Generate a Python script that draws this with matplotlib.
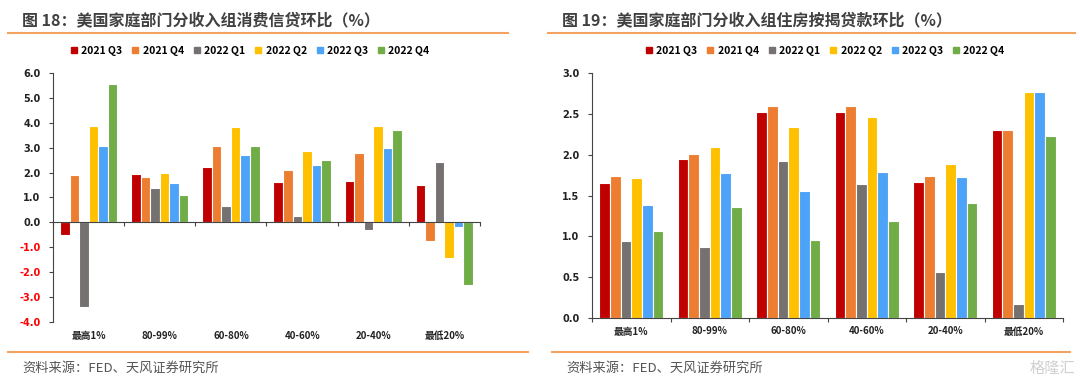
import matplotlib
matplotlib.use("Agg")
import matplotlib.pyplot as plt
import matplotlib.transforms as mtransforms
from matplotlib.lines import Line2D
import numpy as np

plt.rcParams['font.family'] = ['Noto Sans CJK SC', 'DejaVu Sans']

categories = ["最高1%", "80-99%", "60-80%", "40-60%", "20-40%", "最低20%"]
series_names = ["2021 Q3", "2021 Q4", "2022 Q1", "2022 Q2", "2022 Q3", "2022 Q4"]
colors = ["#C00000", "#ED7D31", "#767171", "#FFC000", "#4DA3F7", "#70AD47"]

# Chart 18: consumer credit q/q (%)
consumer_q3_21 = [-0.5, 1.96, 2.21, 1.62, 1.68, 1.50]
consumer_q4_21 = [1.90, 1.81, 3.06, 2.09, 2.78, -0.75]
consumer_q1_22 = [-3.40, 1.40, 0.67, 0.27, -0.31, 2.42]
consumer_q2_22 = [3.87, 1.99, 3.84, 2.86, 3.89, -1.42]
consumer_q3_22 = [3.05, 1.58, 2.70, 2.30, 2.97, -0.20]
consumer_q4_22 = [5.56, 1.11, 3.06, 2.51, 3.70, -2.52]

# Chart 19: mortgage q/q (%)
mortgage_q3_21 = [1.65, 1.95, 2.52, 2.52, 1.67, 2.30]
mortgage_q4_21 = [1.74, 2.01, 2.60, 2.60, 1.74, 2.30]
mortgage_q1_22 = [0.94, 0.87, 1.92, 1.64, 0.56, 0.17]
mortgage_q2_22 = [1.72, 2.09, 2.34, 2.46, 1.88, 2.77]
mortgage_q3_22 = [1.38, 1.78, 1.56, 1.79, 1.73, 2.77]
mortgage_q4_22 = [1.06, 1.36, 0.95, 1.19, 1.41, 2.23]

consumer = [consumer_q3_21, consumer_q4_21, consumer_q1_22, consumer_q2_22, consumer_q3_22, consumer_q4_22]
mortgage = [mortgage_q3_21, mortgage_q4_21, mortgage_q1_22, mortgage_q2_22, mortgage_q3_22, mortgage_q4_22]

title18 = "图 18：美国家庭部门分收入组消费信贷环比（%）"
title19 = "图 19：美国家庭部门分收入组住房按揭贷款环比（%）"
source = "资料来源：FED、天风证券研究所"

W, H = 1080, 380
fig = plt.figure(figsize=(W / 100, H / 100), dpi=100)
fig.patch.set_facecolor("white")

def fx(px):
    return px / W

def fy(py):
    return 1 - py / H

ORANGE_LINE = "#F4A460"
TEXT_DARK = "#404040"


def draw_panel(rect, data, ylim, yticks, fmt, zero_spine, bar_w):
    ax = fig.add_axes(rect)
    x = np.arange(len(categories))
    n = len(data)
    for i, (vals, col, name) in enumerate(zip(data, colors, series_names)):
        offs = (i - (n - 1) / 2) * bar_w
        ax.bar(x + offs, vals, width=bar_w, color=col, edgecolor="white",
               linewidth=0.8, label=name, zorder=3)
    ax.set_xlim(-0.5, len(categories) - 0.5)
    ax.set_ylim(*ylim)
    ax.set_yticks(yticks)
    ax.set_yticklabels([fmt.format(v) for v in yticks], fontsize=7,
                       fontweight="bold", family=['DejaVu Sans'])
    for lab, v in zip(ax.get_yticklabels(), yticks):
        lab.set_color("#FF0000" if v < 0 else "#222222")
    ax.set_xticks(np.arange(len(categories) + 1) - 0.5)
    ax.set_xticklabels([])
    ax.tick_params(axis="x", direction="out", length=3, width=0.8, color="#444444")
    ax.tick_params(axis="y", direction="out", length=3, width=0.8, color="#444444", pad=6)
    for s in ["top", "right"]:
        ax.spines[s].set_visible(False)
    for s in ["left", "bottom"]:
        ax.spines[s].set_color("#444444")
        ax.spines[s].set_linewidth(0.8)
        ax.spines[s].set_zorder(5)
    if zero_spine:
        ax.spines["bottom"].set_position(("data", 0))
    trans = mtransforms.blended_transform_factory(ax.transData, ax.transAxes)
    for i, c in enumerate(categories):
        ax.text(i, -0.055, c, transform=trans, ha="center", va="center",
                fontsize=7, fontweight="bold", color="#222222")
    return ax


def draw_header(x0, x1, title, legend_cx):
    fig.text(fx(x0 + 14), fy(20), title, fontsize=11.5, fontweight="bold",
             color=TEXT_DARK, ha="left", va="center")
    fig.add_artist(Line2D([fx(x0), fx(x1)], [fy(33), fy(33)], color=ORANGE_LINE,
                          linewidth=1.5))
    handles = [Line2D([], [], marker="s", linestyle="none", markersize=4.5,
                      markerfacecolor=c, markeredgecolor=c) for c in colors]
    fig.legend(handles, series_names, loc="center", bbox_to_anchor=(fx(legend_cx), fy(51)),
               ncol=6, frameon=False, handlelength=0.7, handletextpad=0.35,
               columnspacing=0.9, prop={"weight": "bold", "size": 7.5})


def draw_footer(x0, x1, text):
    fig.add_artist(Line2D([fx(x0), fx(x1)], [fy(352), fy(352)], color=ORANGE_LINE,
                          linewidth=1.5))
    fig.text(fx(x0 + 14), fy(368), text, fontsize=9.5, color="#555555",
             ha="left", va="center")


# Left panel
draw_header(8, 508, title18, 250)
draw_panel([fx(53), fy(322), fx(480) - fx(53), fy(73) - fy(322)], consumer,
           (-4.0, 6.0), [-4.0, -3.0, -2.0, -1.0, 0.0, 1.0, 2.0, 3.0, 4.0, 5.0, 6.0],
           "{:.1f}", True, 0.134)
draw_footer(8, 528, source)

# Right panel
draw_header(548, 1075, title19, 825)
draw_panel([fx(592), fy(318), fx(1063) - fx(592), fy(73) - fy(318)], mortgage,
           (0.0, 3.0), [0.0, 0.5, 1.0, 1.5, 2.0, 2.5, 3.0],
           "{:.1f}", False, 0.136)
draw_footer(552, 1070, source)

# watermark
fig.text(fx(1075), fy(368), "格隆汇", fontsize=11, color="#D0D0D0", ha="right",
         va="center")

fig.savefig("out.png", dpi=100, facecolor="white")
